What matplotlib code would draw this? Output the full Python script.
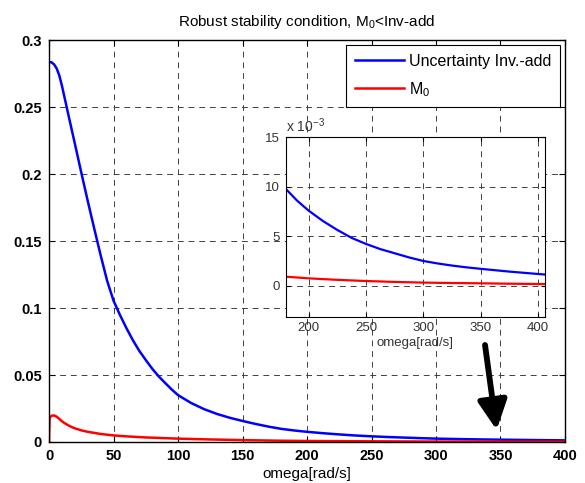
import numpy as np
import matplotlib
matplotlib.use("Agg")
import matplotlib.pyplot as plt

plt.rcParams["font.family"] = ["Liberation Sans", "DejaVu Sans"]
plt.rcParams["mathtext.fontset"] = "custom"
plt.rcParams["mathtext.rm"] = "Liberation Sans"
plt.rcParams["mathtext.it"] = "Liberation Sans"

# omega [rad/s] and the two curves
omega_unc = [0, 2, 4, 6, 8, 10, 13, 16, 20, 25, 30, 35, 37.5, 40, 45, 50, 55, 60, 65,
             70, 75, 80, 85, 90, 95, 100, 110, 120, 130, 140, 150, 160, 170, 180, 190,
             200, 212.5, 225, 237.5, 250, 262.5, 275, 287.5, 300, 312.5, 325, 337.5,
             350, 375, 400, 410]
unc_inv_add = [0.2838, 0.2834, 0.2818, 0.2787, 0.2735, 0.2660, 0.2530, 0.2400, 0.2228,
               0.2012, 0.1800, 0.1595, 0.1495, 0.1395, 0.1205, 0.1055, 0.0948, 0.0850,
               0.0760, 0.0680, 0.0612, 0.0547, 0.0490, 0.0441, 0.0393, 0.0350, 0.0292,
               0.0246, 0.0210, 0.0181, 0.0157, 0.0135, 0.0115, 0.0098, 0.0086, 0.0076,
               0.00655, 0.00565, 0.00485, 0.00424, 0.00372, 0.0033, 0.00288, 0.00252,
               0.00227, 0.00206, 0.00188, 0.00173, 0.00145, 0.00121, 0.00112]

omega_m0 = [0, 0.4, 1, 2, 3.5, 5, 6, 8, 10, 12.5, 15, 17.5, 20, 25, 30, 40, 50, 60, 75,
            100, 125, 150, 180, 200, 225, 250, 275, 300, 325, 350, 375, 400, 410]
m0 = [0.0, 0.017, 0.0188, 0.0196, 0.0198, 0.0194, 0.0188, 0.0172, 0.0155, 0.0138,
      0.0124, 0.0112, 0.0102, 0.0087, 0.0076, 0.0060, 0.0049, 0.0042, 0.0034, 0.0025,
      0.0019, 0.0014, 0.00094, 0.00077, 0.00062, 0.0005, 0.00041, 0.00034, 0.0003,
      0.00027, 0.00023, 0.0002, 0.00019]

main_xticks = [0, 50, 100, 150, 200, 250, 300, 350, 400]
main_yticks = [0, 0.05, 0.1, 0.15, 0.2, 0.25, 0.3]
main_yticklabels = ["0", "0.05", "0.1", "0.15", "0.2", "0.25", "0.3"]
inset_xticks = [200, 250, 300, 350, 400]
inset_yticks = [0, 5, 10, 15]

fig = plt.figure(figsize=(5.85, 4.83), dpi=100)
ax = fig.add_axes([0.0838, 0.0849, 0.882, 0.832])

grid_kw = dict(color="0.25", lw=0.7, ls=(0, (6, 5)))

ax.plot(omega_unc, unc_inv_add, color="#0000ff", lw=1.8, label="Uncertainty Inv.-add")
ax.plot(omega_m0, m0, color="#ff0000", lw=1.8, label="M$_0$")
ax.set_xlim(0, 400)
ax.set_ylim(0, 0.3)
ax.set_xticks(main_xticks)
ax.set_yticks(main_yticks)
ax.set_yticklabels(main_yticklabels)
ax.grid(True, **grid_kw)
ax.tick_params(direction="in", top=True, right=True, labelsize=10.5, length=4, pad=5)
for lab in ax.get_xticklabels() + ax.get_yticklabels():
    lab.set_fontweight("bold")
for s in ax.spines.values():
    s.set_linewidth(1.0)
ax.set_xlabel("omega[rad/s]", fontsize=11, labelpad=3)
ax.set_title("Robust stability condition, M$_0$<Inv-add", fontsize=11, pad=10)

leg = ax.legend(loc="upper right", fontsize=11.5, fancybox=False, edgecolor="k",
                framealpha=1, borderaxespad=0.3, handlelength=3.1, handletextpad=0.3,
                labelspacing=0.7, borderpad=0.55)
leg.get_frame().set_linewidth(0.8)

# arrow pointing at the tail
ax.annotate("", xy=(347, 0.009), xytext=(338, 0.0724),
            arrowprops=dict(arrowstyle="-|>,head_length=0.42,head_width=0.21",
                            mutation_scale=42, lw=4.2, color="k",
                            shrinkA=0, shrinkB=0))

# inset zoom
axi = fig.add_axes([0.4884, 0.3443, 0.4432, 0.3714])
axi.plot(omega_unc, np.array(unc_inv_add) * 1e3, color="#0000ff", lw=1.6)
axi.plot(omega_m0, np.array(m0) * 1e3, color="#ff0000", lw=1.6)
axi.set_xlim(180, 406)
axi.set_ylim(-3.1, 15)
axi.set_xticks(inset_xticks)
axi.set_yticks(inset_yticks)
axi.grid(True, **grid_kw)
axi.tick_params(direction="in", top=True, right=True, labelsize=9.5, length=3,
                labelcolor="0.2", pad=4)
axi.set_xlabel("omega[rad/s]", fontsize=9.5, labelpad=2, color="0.2")
axi.text(0.0, 1.015, "x 10$^{-3}$", transform=axi.transAxes, fontsize=10,
         color="0.2", ha="left", va="bottom")

fig.savefig("out.png", dpi=100)
